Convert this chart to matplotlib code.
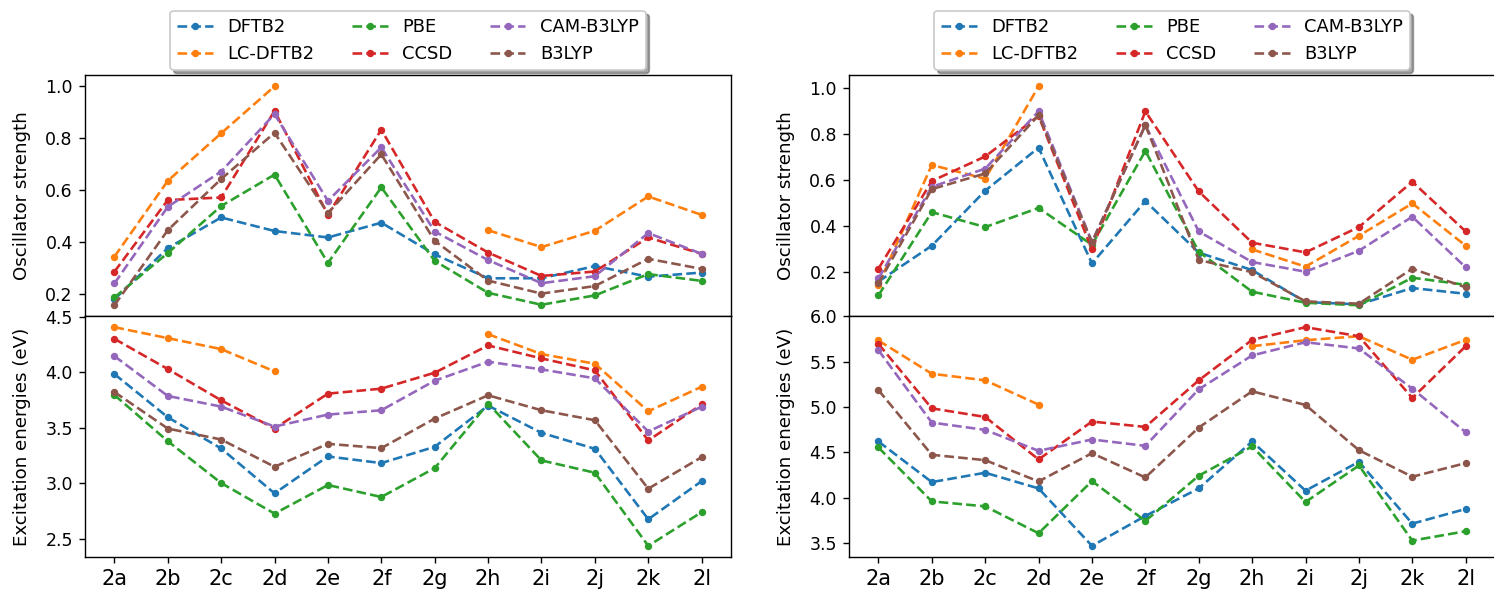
import numpy as np
import matplotlib
matplotlib.use('Agg')
import matplotlib.pyplot as plt

nan = np.nan

molecules = ['2a', '2b', '2c', '2d', '2e', '2f', '2g', '2h', '2i', '2j', '2k', '2l']
methods = ['DFTB2', 'LC-DFTB2', 'PBE', 'CCSD', 'CAM-B3LYP', 'B3LYP']

# left column: oscillator strengths
osc_left_dftb2 = [0.18, 0.377, 0.495, 0.443, 0.418, 0.475, 0.353, 0.261, 0.261, 0.308, 0.267, 0.283]
osc_left_lcdftb2 = [0.344, 0.636, 0.819, 1.0, nan, nan, nan, 0.446, 0.381, 0.444, 0.576, 0.505]
osc_left_pbe = [0.187, 0.358, 0.539, 0.660, 0.320, 0.611, 0.328, 0.205, 0.159, 0.195, 0.277, 0.251]
osc_left_ccsd = [0.286, 0.562, 0.572, 0.905, 0.505, 0.833, 0.478, 0.360, 0.270, 0.287, 0.418, 0.355]
osc_left_cam = [0.241, 0.536, 0.672, 0.893, 0.559, 0.765, 0.441, 0.331, 0.242, 0.269, 0.435, 0.355]
osc_left_b3lyp = [0.157, 0.446, 0.643, 0.821, 0.512, 0.738, 0.405, 0.252, 0.202, 0.231, 0.336, 0.297]

# left column: excitation energies (eV)
exc_left_dftb2 = [3.985, 3.595, 3.313, 2.908, 3.241, 3.181, 3.328, 3.700, 3.454, 3.310, 2.674, 3.018]
exc_left_lcdftb2 = [4.408, 4.309, 4.210, 4.009, nan, nan, nan, 4.345, 4.165, 4.078, 3.649, 3.870]
exc_left_pbe = [3.796, 3.379, 3.001, 2.725, 2.983, 2.875, 3.136, 3.718, 3.205, 3.094, 2.434, 2.738]
exc_left_ccsd = [4.303, 4.030, 3.748, 3.493, 3.808, 3.853, 3.997, 4.243, 4.126, 4.018, 3.385, 3.711]
exc_left_cam = [4.147, 3.787, 3.691, 3.511, 3.619, 3.658, 3.925, 4.096, 4.027, 3.946, 3.466, 3.690]
exc_left_b3lyp = [3.823, 3.493, 3.394, 3.148, 3.355, 3.316, 3.583, 3.793, 3.658, 3.568, 2.950, 3.235]

# right column: oscillator strengths
osc_right_dftb2 = [0.16, 0.316, 0.555, 0.742, 0.239, 0.510, 0.286, 0.210, 0.071, 0.061, 0.132, 0.107]
osc_right_lcdftb2 = [0.145, 0.667, 0.607, 1.009, nan, nan, nan, 0.300, 0.225, 0.359, 0.500, 0.316]
osc_right_pbe = [0.100, 0.462, 0.397, 0.480, 0.320, 0.728, 0.290, 0.116, 0.068, 0.057, 0.177, 0.146]
osc_right_ccsd = [0.216, 0.597, 0.704, 0.880, 0.300, 0.900, 0.552, 0.329, 0.287, 0.397, 0.594, 0.378]
osc_right_cam = [0.174, 0.572, 0.651, 0.900, 0.333, 0.840, 0.378, 0.245, 0.203, 0.294, 0.442, 0.222]
osc_right_b3lyp = [0.152, 0.562, 0.630, 0.883, 0.330, 0.841, 0.254, 0.201, 0.074, 0.064, 0.216, 0.135]

# right column: excitation energies (eV)
exc_right_dftb2 = [4.620, 4.172, 4.275, 4.102, 3.468, 3.798, 4.102, 4.620, 4.077, 4.396, 3.713, 3.875]
exc_right_lcdftb2 = [5.735, 5.368, 5.295, 5.027, nan, nan, nan, 5.672, 5.738, 5.782, 5.522, 5.742]
exc_right_pbe = [4.554, 3.959, 3.904, 3.607, 4.183, 3.743, 4.242, 4.565, 3.952, 4.355, 3.526, 3.629]
exc_right_ccsd = [5.698, 4.986, 4.891, 4.422, 4.840, 4.781, 5.295, 5.742, 5.882, 5.782, 5.100, 5.672]
exc_right_cam = [5.628, 4.829, 4.748, 4.517, 4.642, 4.572, 5.196, 5.570, 5.716, 5.647, 5.203, 4.722]
exc_right_b3lyp = [5.188, 4.473, 4.414, 4.179, 4.491, 4.223, 4.774, 5.174, 5.023, 4.524, 4.231, 4.381]

panels = [
    ([osc_left_dftb2, osc_left_lcdftb2, osc_left_pbe, osc_left_ccsd, osc_left_cam, osc_left_b3lyp],
     [exc_left_dftb2, exc_left_lcdftb2, exc_left_pbe, exc_left_ccsd, exc_left_cam, exc_left_b3lyp]),
    ([osc_right_dftb2, osc_right_lcdftb2, osc_right_pbe, osc_right_ccsd, osc_right_cam, osc_right_b3lyp],
     [exc_right_dftb2, exc_right_lcdftb2, exc_right_pbe, exc_right_ccsd, exc_right_cam, exc_right_b3lyp]),
]

fig = plt.figure(figsize=(1494 / 125, 590 / 125), dpi=125)

lefts = [0.0569, 0.5683]
width = 0.4324

for col, (osc, exc) in enumerate(panels):
    ax_top = fig.add_axes([lefts[col], 0.4640, width, 0.4083])
    ax_bot = fig.add_axes([lefts[col], 0.0563, width, 0.4077], sharex=ax_top)

    for name, values in zip(methods, osc):
        ax_top.plot(molecules, values, '--', marker='.', markersize=6.5, label=name)
    for name, values in zip(methods, exc):
        ax_bot.plot(molecules, values, '--', marker='.', markersize=6.5, label=name)

    ax_top.set_ylabel('Oscillator strength', fontsize=10.5, labelpad=8)
    ax_bot.set_ylabel('Excitation energies (eV)', fontsize=10.5, labelpad=8)
    ax_top.tick_params(axis='x', bottom=False, labelbottom=False)
    ax_bot.tick_params(axis='x', labelsize=12)

    ax_top.legend(ncol=3, loc='lower center', bbox_to_anchor=(0.5, 1.0),
                  borderaxespad=0.3, shadow=True, fontsize=10.3, columnspacing=2.1)

fig.savefig('out.png', dpi=125)
